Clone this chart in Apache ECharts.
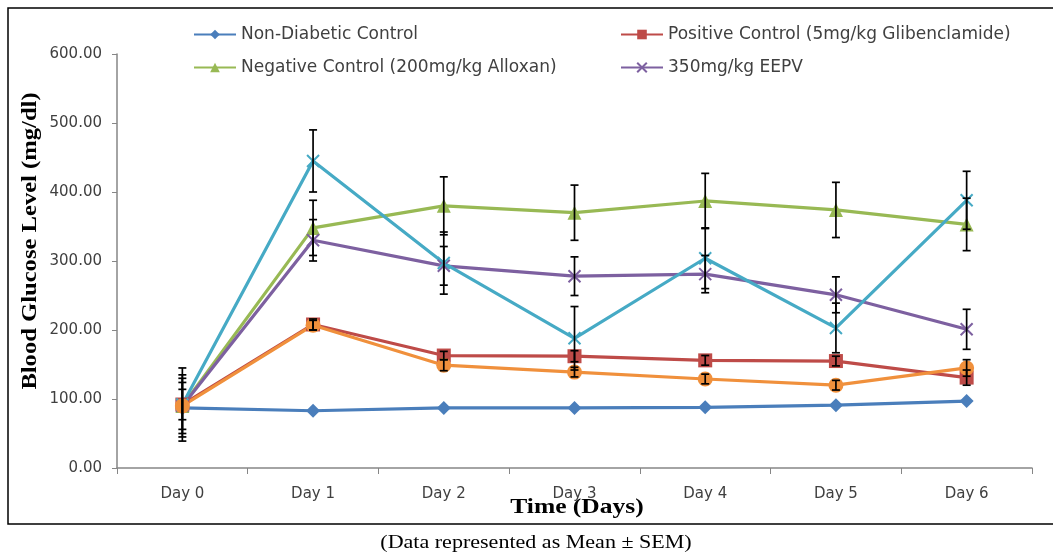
<!DOCTYPE html>
<html>
<head>
<meta charset="utf-8">
<script src="https://cdn.jsdelivr.net/npm/echarts@6/dist/echarts.min.js"></script>
<style>
  html, body { margin: 0; padding: 0; background: #fff; }
  #chart { width: 1053px; height: 555px; }
</style>
</head>
<body>
<div id="chart"></div>
<script>
// ---- data ----
var categories = ['Day 0', 'Day 1', 'Day 2', 'Day 3', 'Day 4', 'Day 5', 'Day 6'];
var yTicks = [0, 100, 200, 300, 400, 500, 600];

var nonDiabetic      = [87, 83, 87, 87, 88, 91, 97];
var nonDiabeticErr   = [0, 0, 0, 0, 0, 0, 0];
var positiveCtrl     = [92, 208, 163, 162, 156, 155, 131];
var positiveCtrlErr  = [22, 8, 6, 8, 7, 7, 11];
var negativeCtrl     = [90, 348, 380, 370, 387, 374, 353];
var negativeCtrlErr  = [45, 40, 42, 40, 40, 40, 38];
var eepv350          = [90, 330, 293, 278, 281, 251, 201];
var eepv350Err       = [40, 30, 28, 28, 27, 26, 29];
var tealSeries       = [92, 445, 297, 188, 304, 203, 388];
var tealSeriesErr    = [53, 45, 45, 46, 44, 36, 42];
var orangeSeries     = [90, 207, 149, 139, 129, 120, 145];
var orangeSeriesErr  = [34, 7, 8, 7, 7, 7, 12];

var names = {
  nd: 'Non-Diabetic Control',
  pc: 'Positive Control (5mg/kg Glibenclamide)',
  nc: 'Negative Control (200mg/kg Alloxan)',
  ee: '350mg/kg EEPV',
  teal: 'Series 5',
  orange: 'Series 6'
};

var colors = {
  nd: '#4A7EBB', pc: '#BE4B48', nc: '#98B954', ee: '#7D60A0', teal: '#46AAC5', orange: '#F0903C'
};

var crossPath = 'path://M0,0L10,10M10,0L0,10';

function lineSeries(key, data, symbol, size, extra) {
  var s = {
    name: names[key],
    type: 'line',
    data: data,
    symbol: symbol,
    symbolSize: size,
    z: 3,
    lineStyle: { color: colors[key], width: 3.2 },
    itemStyle: { color: colors[key], borderColor: colors[key], borderWidth: 0, opacity: 1 },
    emphasis: { disabled: true },
    animation: false
  };
  if (extra) {
    for (var k in extra) s[k] = extra[k];
  }
  return s;
}

function errSeries(values, errs) {
  var d = values.map(function (v, i) { return [i, v - errs[i], v + errs[i], errs[i]]; });
  return {
    type: 'custom',
    data: d,
    z: 4,
    silent: true,
    animation: false,
    renderItem: function (params, api) {
      if (!api.value(3)) return null;
      var lo = api.coord([api.value(0), api.value(1)]);
      var hi = api.coord([api.value(0), api.value(2)]);
      var x = lo[0], c = 4;
      var st = { stroke: '#000', lineWidth: 1.7 };
      return {
        type: 'group',
        children: [
          { type: 'line', shape: { x1: x, y1: lo[1], x2: x, y2: hi[1] }, style: st },
          { type: 'line', shape: { x1: x - c, y1: lo[1], x2: x + c, y2: lo[1] }, style: st },
          { type: 'line', shape: { x1: x - c, y1: hi[1], x2: x + c, y2: hi[1] }, style: st }
        ]
      };
    }
  };
}

var crossItem = function (key) {
  return { color: colors[key], borderColor: colors[key], borderWidth: 2, opacity: 1 };
};

var series = [
  lineSeries('nd', nonDiabetic, 'diamond', 14),
  lineSeries('pc', positiveCtrl, 'rect', 14),
  lineSeries('nc', negativeCtrl, 'triangle', 14),
  lineSeries('ee', eepv350, crossPath, 12, { itemStyle: crossItem('ee') }),
  lineSeries('teal', tealSeries, crossPath, 12, { itemStyle: crossItem('teal') }),
  lineSeries('orange', orangeSeries, 'circle', 15),
  errSeries(nonDiabetic, nonDiabeticErr),
  errSeries(positiveCtrl, positiveCtrlErr),
  errSeries(negativeCtrl, negativeCtrlErr),
  errSeries(eepv350, eepv350Err),
  errSeries(tealSeries, tealSeriesErr),
  errSeries(orangeSeries, orangeSeriesErr)
];

var legendFont = { fontFamily: 'DejaVu Sans', fontSize: 17, color: '#404040' };
function legendAt(key, left, top) {
  return {
    data: [names[key]],
    left: left, top: top,
    itemWidth: 42, itemHeight: 12, itemGap: 0,
    textStyle: legendFont,
    selectedMode: false,
    padding: 0
  };
}

var chart = echarts.init(document.getElementById('chart'), null, { renderer: 'canvas' });
chart.setOption({
  backgroundColor: '#fff',
  animation: false,
  legend: [
    legendAt('nd', 193, 26),
    legendAt('pc', 620, 26),
    legendAt('nc', 193, 59),
    legendAt('ee', 620, 59)
  ],
  grid: { left: 117, right: 21, top: 54, bottom: 87, containLabel: false },
  xAxis: {
    type: 'category',
    data: categories,
    boundaryGap: true,
    axisLine: { lineStyle: { color: '#868686', width: 1.5 } },
    axisTick: { show: true, alignWithLabel: false, length: 6, inside: false, lineStyle: { color: '#868686' } },
    axisLabel: { margin: 19, fontFamily: 'DejaVu Sans', fontSize: 15, color: '#404040' },
    splitLine: { show: false }
  },
  yAxis: {
    type: 'value',
    min: yTicks[0],
    max: yTicks[yTicks.length - 1],
    interval: 100,
    axisLine: { show: true, lineStyle: { color: '#868686', width: 1.5 } },
    axisTick: { show: true, length: 5, lineStyle: { color: '#868686' } },
    axisLabel: {
      margin: 15,
      fontFamily: 'DejaVu Sans', fontSize: 15, color: '#404040',
      formatter: function (v) { return v.toFixed(2); }
    },
    splitLine: { show: false }
  },
  graphic: [
    {
      type: 'rect', silent: true, z: 0,
      shape: { x: 8, y: 8, width: 1060, height: 516 },
      style: { fill: null, stroke: '#000', lineWidth: 1.5 }
    },
    {
      type: 'text', silent: true,
      x: 31, y: 241, rotation: Math.PI / 2, scaleX: 1.23,
      style: {
        text: 'Blood Glucose Level (mg/dl)',
        fontFamily: 'Liberation Serif', fontWeight: 'bold', fontSize: 20, fill: '#000',
        align: 'center', verticalAlign: 'middle'
      }
    },
    {
      type: 'text', silent: true,
      x: 577, y: 507, scaleX: 1.16,
      style: {
        text: 'Time (Days)',
        fontFamily: 'Liberation Serif', fontWeight: 'bold', fontSize: 22, fill: '#000',
        align: 'center', verticalAlign: 'middle'
      }
    },
    {
      type: 'text', silent: true,
      x: 536, y: 543, scaleX: 1.16,
      style: {
        text: '(Data represented as Mean \u00b1 SEM)',
        fontFamily: 'Liberation Serif', fontSize: 19, fill: '#000',
        align: 'center', verticalAlign: 'middle'
      }
    }
  ],
  series: series
});
</script>
</body>
</html>
